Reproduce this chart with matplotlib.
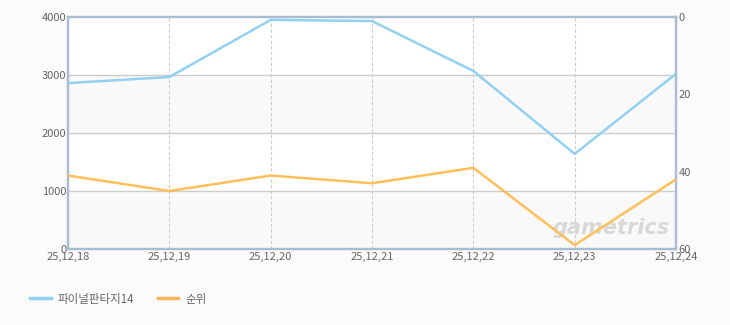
import matplotlib
matplotlib.use("Agg")
import matplotlib.pyplot as plt
from matplotlib.lines import Line2D

plt.rcParams['font.family'] = ['Noto Sans CJK KR', 'DejaVu Sans']

dates = ["25,12,18", "25,12,19", "25,12,20", "25,12,21", "25,12,22", "25,12,23", "25,12,24"]
series_value = [2860, 2965, 3950, 3930, 3070, 1640, 3020]
rank = [41, 45, 41, 43, 39, 59, 42]
left_ticks = [0, 1000, 2000, 3000, 4000]
right_ticks = [0, 20, 40, 60]
series_name = "파이널판타지14"
rank_name = "순위"

fig = plt.figure(figsize=(7.3, 3.25), dpi=100)
fig.patch.set_facecolor("#fbfbfb")
ax = fig.add_axes([68/730, 1-249/325, (676-68)/730, (249-17)/325])
ax.set_facecolor("white")

x = list(range(len(dates)))
ax.set_xlim(0, len(dates)-1)
ax.set_ylim(0, 4000)

# alternating bands
for i in range(len(left_ticks)-1):
    if i % 2 == 0:
        ax.axhspan(left_ticks[i], left_ticks[i+1], color="#f9f9f9", zorder=0, lw=0)

for t in left_ticks[1:-1]:
    ax.axhline(t, color="#cccccc", lw=1, zorder=1)
for xi in x[1:-1]:
    ax.axvline(xi, color="#cccccc", lw=0.8, ls=(0, (3, 2)), zorder=1)

# watermark
ax.text(0.893, 0.09, "gametrics", transform=ax.transAxes, ha="center", va="center",
        fontsize=15, fontweight="bold", style="italic", color="#d8d8d8",
        family="DejaVu Sans", zorder=2)

ax.plot(x, series_value, color="#92d1f2", lw=1.8, zorder=3, solid_capstyle="round")

ax.set_xticks(x)
ax.set_xticklabels(dates)
ax.set_yticks(left_ticks)
ax.tick_params(axis="both", length=0, labelsize=8, colors="#666666", pad=2)
ax.tick_params(axis="y", pad=1)

ax2 = ax.twinx()
ax2.set_ylim(60, 0)
ax2.plot(x, rank, color="#ffbf5a", lw=1.8, zorder=3, solid_capstyle="round")
ax2.set_yticks(right_ticks)
ax2.tick_params(axis="y", length=0, labelsize=8, colors="#666666", pad=2)

for a in (ax, ax2):
    for s in a.spines.values():
        s.set_color("#a9bdd0")
        s.set_linewidth(1.6)

handles = [Line2D([], [], color="#92d1f2", lw=2.5), Line2D([], [], color="#f5b55a", lw=2.5)]
fig.legend(handles, [series_name, rank_name], loc="center left", bbox_to_anchor=(20/730, 1-299/325),
           ncol=2, frameon=False, fontsize=8.3, labelcolor="#666666", handlelength=1.8,
           handletextpad=0.6, columnspacing=2.0)

fig.savefig("out.png", dpi=100, facecolor=fig.get_facecolor())
